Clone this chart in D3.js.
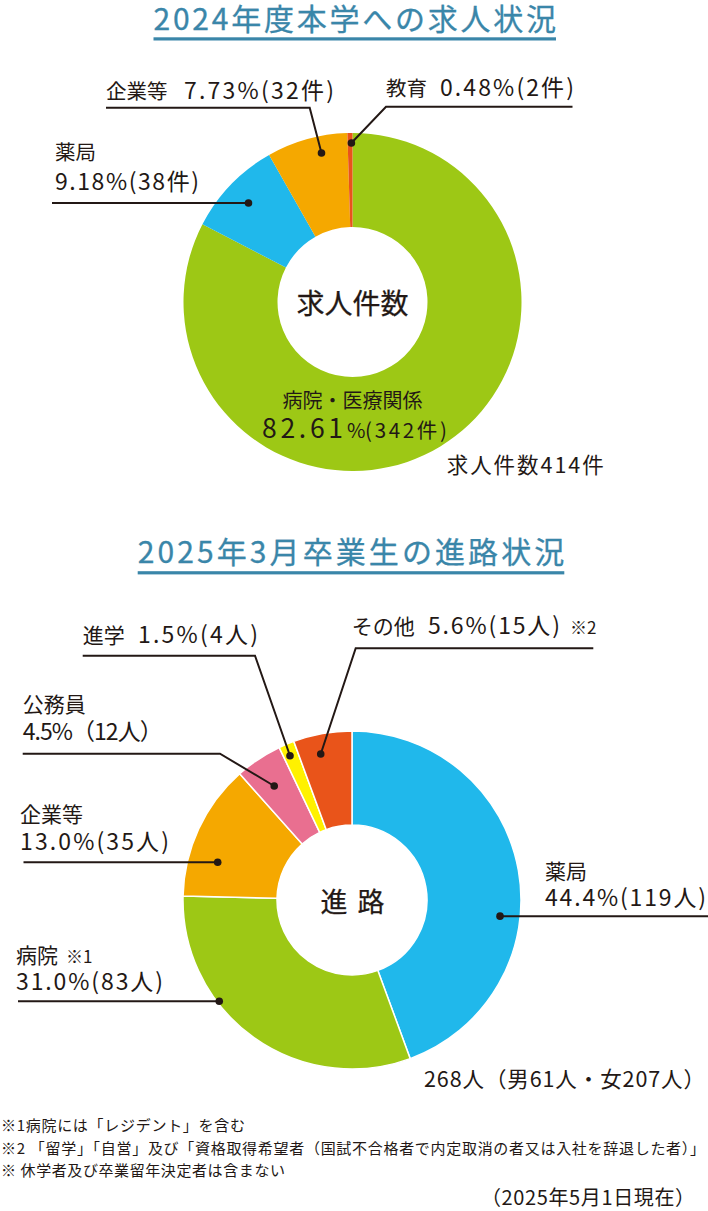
<!DOCTYPE html>
<html lang="ja">
<head>
<meta charset="utf-8">
<script src="https://cdn.jsdelivr.net/npm/d3@7"></script>
<style>
  body { margin: 0; background: #fff; }
  svg { display: block; }
  text { font-family: "Noto Sans CJK JP", "Noto Sans", sans-serif; fill: #231815; }
</style>
</head>
<body>
<svg id="chart" width="708" height="1211"></svg>
<script>
// ---- 2024年度 求人件数 ----
const jobTitle = "2024年度本学への求人状況";
const jobCategories = ["病院・医療関係", "薬局", "企業等", "教育"];
const jobCounts = [342, 38, 32, 2];
const jobPercents = ["82.61", "9.18", "7.73", "0.48"];
const jobTotal = 414;
const jobColors = ["#9dc815", "#20b8eb", "#f5a800", "#e9531b"];

// ---- 2025年3月卒業生 進路 ----
const careerTitle = "2025年3月卒業生の進路状況";
const careerCategories = ["薬局", "病院", "企業等", "公務員", "進学", "その他"];
const careerCounts = [119, 83, 35, 12, 4, 15];
const careerPercents = ["44.4", "31.0", "13.0", "4.5", "1.5", "5.6"];
const careerMarks = ["", "※1", "", "", "", "※2"];
const careerMale = 61;
const careerFemale = 207;
const careerColors = ["#20b8eb", "#9dc815", "#f5a800", "#e96f90", "#fff100", "#e9541a"];

const footnotes = [
  "※1病院には「レジデント」を含む",
  "※2 「留学」「自営」及び「資格取得希望者（国試不合格者で内定取消の者又は入社を辞退した者）」",
  "※ 休学者及び卒業留年決定者は含まない"
];
const asOfDate = "（2025年5月1日現在）";

const svg = d3.select("#chart");
const ink = "#231815";
const titleColor = "#3a86a9";

function addText(g, str, x, y, size, opts = {}) {
  const t = g.append("text")
    .attr("x", x).attr("y", y)
    .attr("font-size", size)
    .attr("text-anchor", opts.anchor || "start")
    .text(str);
  if (opts.width) t.attr("textLength", opts.width).attr("lengthAdjust", "spacing");
  if (opts.fill) t.style("fill", opts.fill);
  if (opts.medium) {
    // a touch heavier than regular
    t.attr("stroke", opts.fill || ink).attr("stroke-width", opts.medium);
  }
  return t;
}

function drawTitle(str, x, y, width, lineY) {
  addText(svg, str, x, y, 30, { width, fill: titleColor, medium: 0.3 });
  svg.append("rect")
    .attr("x", x).attr("y", lineY)
    .attr("width", width).attr("height", 3.2)
    .attr("fill", titleColor);
}

// point inside a slice: fraction t along the slice angle, at radius r
function slicePoint(d, t, r) {
  const a = d.startAngle + t * (d.endAngle - d.startAngle);
  return [r * Math.sin(a), -r * Math.cos(a)];
}

function drawDonut(cx, cy, values, colors, sep) {
  const pie = d3.pie().sort(null).value(v => v).startAngle(0).endAngle(2 * Math.PI);
  const arc = d3.arc().innerRadius(75).outerRadius(169);
  const g = svg.append("g").attr("transform", `translate(${cx},${cy})`);
  const arcs = pie(values);
  g.selectAll("path.slice").data(arcs).join("path")
    .attr("class", "slice")
    .attr("d", arc)
    .attr("fill", (d, i) => colors[i])
    .attr("stroke", sep ? "#fff" : "none")
    .attr("stroke-width", sep ? 1.5 : 0);
  return { g, arcs };
}

function drawLeader(cx, cy, d, lay) {
  const [px, py] = slicePoint(d, lay.t, lay.r);
  const dot = [cx + px, cy + py];
  const pts = lay.hline !== undefined ? [[lay.hline, dot[1]], dot] : [...lay.path, dot];
  svg.append("path")
    .attr("d", d3.line()(pts))
    .attr("fill", "none")
    .attr("stroke", ink)
    .attr("stroke-width", 2);
  svg.append("circle")
    .attr("cx", dot[0]).attr("cy", dot[1]).attr("r", 3.8)
    .attr("fill", ink);
}

// ================= 求人状況 =================
drawTitle(jobTitle, 153.5, 29.5, 402.5, 37.3);

const job = drawDonut(352.5, 302, jobCounts, jobColors, false);

// centre caption
addText(job.g, "求人件数", 0, 11.8, 28, { anchor: "middle", medium: 0.25 });

// largest slice is labelled inside the ring
addText(svg, jobCategories[0], 352.5, 407.5, 20, { anchor: "middle" });
addText(svg, jobPercents[0], 262, 438.3, 26.5, { width: 81 });
addText(svg, "%", 347, 437.5, 20);
addText(svg, `(${jobCounts[0]}件)`, 365, 437.5, 20.5, { width: 82 });

const jobLabelLayout = [
  null,
  { t: 0.49, r: 143.6, hline: 52,
    name: [55, 160], value: [55, 189.5, 144] },
  { t: 0.64, r: 152.2, path: [[106, 107.7], [309.7, 107.7]],
    name: [106, 98.7], value: [184, 98.7, 150] },
  { t: 0.77, r: 159, path: [[572.5, 106.7], [386, 106.7]],
    name: [386, 95.5], value: [440, 95.5, 134] }
];

job.arcs.forEach((d, i) => {
  const lay = jobLabelLayout[i];
  if (!lay) return;
  drawLeader(352.5, 302, d, lay);
  addText(svg, jobCategories[i], lay.name[0], lay.name[1], 20.5);
  addText(svg, `${jobPercents[i]}%(${jobCounts[i]}件)`, lay.value[0], lay.value[1], 23,
    { width: lay.value[2] });
});

addText(svg, `求人件数${jobTotal}件`, 446.7, 473, 21.5, { width: 157 });

// ================= 進路状況 =================
drawTitle(careerTitle, 137.7, 563, 426.6, 571.2);

const career = drawDonut(352, 900, careerCounts, careerColors, true);
addText(svg, "進路", 320.5, 912, 27, { width: 64, medium: 0.25 });

const careerLabelLayout = [
  { t: 0.602, r: 148.9, hline: 708,
    name: [545, 879], value: [545, 905.5, 161] },
  { t: 0.653, r: 167, hline: 18,
    name: [16, 963], mark: [66, 963], value: [16, 990, 147] },
  { t: 0.305, r: 139.5, hline: 23.5,
    name: [20, 822], value: [20, 849.5, 149] },
  { t: 0.455, r: 138, path: [[22.7, 753.7], [220, 753.7]],
    name: [22.7, 711.5], value: [22.7, 739.5, 140], wide: true },
  { t: 0.42, r: 157, path: [[82.7, 655.7], [255, 655.7]],
    name: [82.7, 643], value: [138, 643, 120] },
  { t: 0.40, r: 149.3, path: [[593.3, 648.3], [355.7, 648.3]],
    name: [351.7, 634], mark: [570, 634], value: [428, 634, 132] }
];

career.arcs.forEach((d, i) => {
  const lay = careerLabelLayout[i];
  drawLeader(352, 900, d, lay);
  addText(svg, careerCategories[i], lay.name[0], lay.name[1], 21);
  if (lay.mark) addText(svg, careerMarks[i], lay.mark[0], lay.mark[1], 17);
  const valueStr = lay.wide
    ? `${careerPercents[i]}%（${careerCounts[i]}人）`
    : `${careerPercents[i]}%(${careerCounts[i]}人)`;
  addText(svg, valueStr, lay.value[0], lay.value[1], 23, { width: lay.value[2] });
});

const careerTotal = d3.sum(careerCounts);
addText(svg, `${careerTotal}人（男${careerMale}人・女${careerFemale}人）`, 424, 1087, 21.5, { width: 281 });

// ---- notes ----
const noteWidths = [244, 704, 284];
const noteY = [1130.6, 1154, 1175.6];
footnotes.forEach((s, i) => addText(svg, s, 1, noteY[i], 15, { width: noteWidths[i] }));
addText(svg, asOfDate, 481, 1204.5, 20, { width: 214 });
</script>
</body>
</html>
